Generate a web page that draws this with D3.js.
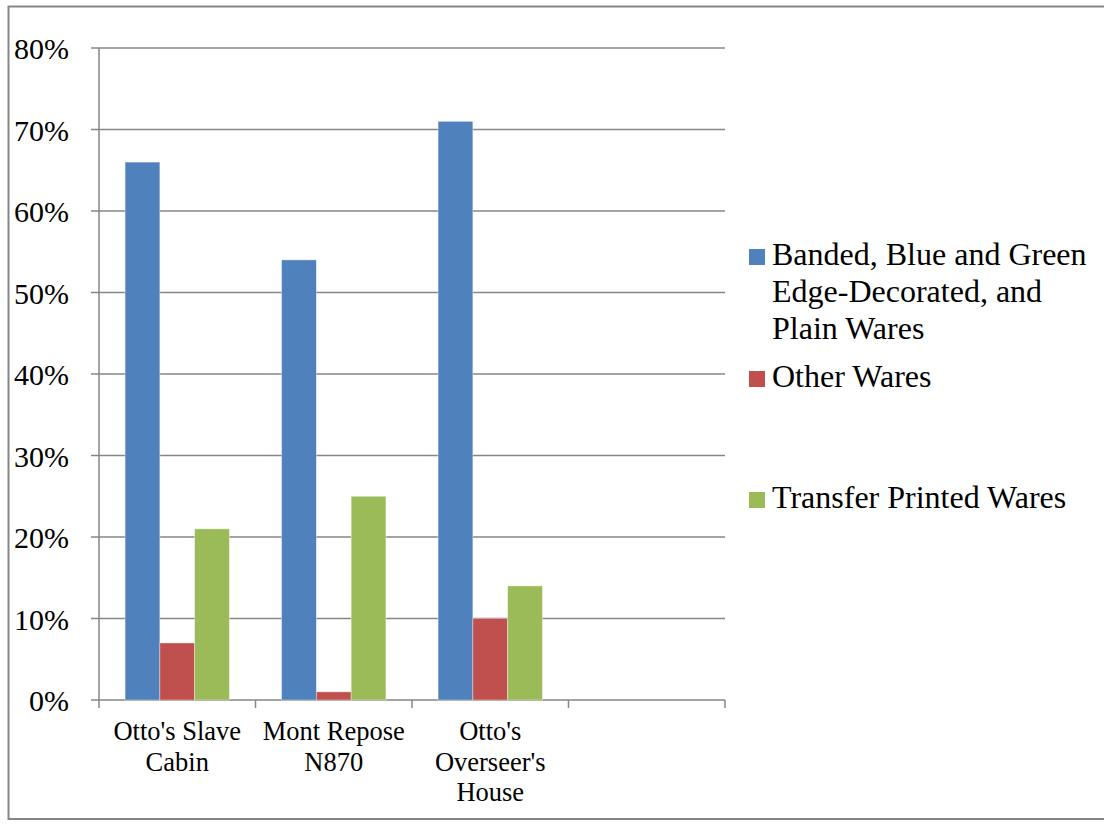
<!DOCTYPE html>
<html>
<head>
<meta charset="utf-8">
<script src="https://cdn.jsdelivr.net/npm/d3@7"></script>
<style>
  html, body { margin: 0; padding: 0; background: #fff; }
  text, tspan { font-family: "Liberation Serif", Tinos, "Times New Roman" !important; }
</style>
</head>
<body>
<script>
(function() {
  'use strict';

  // --- Data ---
  const categories = [
    ["Otto's Slave", "Cabin"],
    ["Mont Repose", "N870"],
    ["Otto's", "Overseer's", "House"],
    [""]
  ];
  const seriesNames = [
    ["Banded, Blue and Green", "Edge-Decorated, and", "Plain Wares"],
    ["Other Wares"],
    ["Transfer Printed Wares"]
  ];
  const seriesColors = ['#4F81BD', '#C0504D', '#9BBB59'];
  const bandedPlain = [0.66, 0.54, 0.71, null];
  const otherWares = [0.07, 0.01, 0.10, null];
  const transferPrinted = [0.21, 0.25, 0.14, null];
  const yTicks = [0, 0.1, 0.2, 0.3, 0.4, 0.5, 0.6, 0.7, 0.8];

  const series = [bandedPlain, otherWares, transferPrinted];
  const FONT = '"Liberation Serif", Tinos, "Times New Roman"';

  const width = 1104, height = 829;
  const plot = { left: 99, right: 725, top: 48, bottom: 700 };

  const svg = d3.select('body').append('svg')
    .attr('width', width)
    .attr('height', height)
    .attr('font-family', FONT)
    .style('display', 'block');

  // Outer frame (right edge runs off the picture)
  svg.append('rect')
    .attr('x', 8.5).attr('y', 6.5)
    .attr('width', 1110).attr('height', 812.5)
    .attr('fill', 'none')
    .attr('stroke', '#868686')
    .attr('stroke-width', 2);

  const x0 = d3.scaleBand()
    .domain(d3.range(categories.length))
    .range([plot.left, plot.right])
    .paddingInner(0)
    .paddingOuter(0);

  const x1 = d3.scaleBand()
    .domain(d3.range(series.length))
    .range([0, x0.bandwidth()])
    .paddingInner(0)
    .paddingOuter(0.75);

  const y = d3.scaleLinear()
    .domain([0, 0.8])
    .range([plot.bottom, plot.top]);

  // Gridlines
  svg.append('g')
    .selectAll('line')
    .data(yTicks)
    .join('line')
    .attr('x1', plot.left - 8)
    .attr('x2', plot.right)
    .attr('y1', d => y(d))
    .attr('y2', d => y(d))
    .attr('stroke', '#868686')
    .attr('stroke-width', 1.5);

  // Y axis line
  svg.append('line')
    .attr('x1', plot.left).attr('x2', plot.left)
    .attr('y1', plot.top).attr('y2', plot.bottom)
    .attr('stroke', '#868686')
    .attr('stroke-width', 1.5);

  // Y tick labels
  svg.append('g')
    .selectAll('text')
    .data(yTicks)
    .join('text')
    .attr('x', 69)
    .attr('y', d => y(d) + 11)
    .attr('text-anchor', 'end')
    .style('font-family', d => FONT)
    .attr('font-size', 30)
    .attr('fill', '#000')
    .text(d3.format('.0%'));

  // X axis tick marks at category boundaries
  const boundaries = d3.range(categories.length + 1).map(i =>
    i < categories.length ? x0(i) : x0(categories.length - 1) + x0.bandwidth());
  svg.append('g')
    .selectAll('line')
    .data(boundaries)
    .join('line')
    .attr('x1', d => d).attr('x2', d => d)
    .attr('y1', plot.bottom).attr('y2', plot.bottom + 8)
    .attr('stroke', '#868686')
    .attr('stroke-width', 1.5);

  // Bars
  series.forEach((vals, si) => {
    svg.append('g')
      .selectAll('rect')
      .data(vals.map((v, ci) => ({ v, ci })).filter(d => d.v !== null))
      .join('rect')
      .attr('x', d => x0(d.ci) + x1(si))
      .attr('y', d => y(d.v))
      .attr('width', x1.bandwidth())
      .attr('height', d => y(0) - y(d.v))
      .attr('fill', seriesColors[si])
      .attr('stroke', '#ffffff')
      .attr('stroke-opacity', 0.5)
      .attr('stroke-width', 0.75);
  });

  // X labels, one text per line
  categories.forEach((lines, i) => {
    svg.append('g')
      .selectAll('text')
      .data(lines)
      .join('text')
      .attr('x', x0(i) + x0.bandwidth() / 2)
      .attr('y', (d, j) => 740 + j * 30.5)
      .attr('text-anchor', 'middle')
      .style('font-family', d => FONT)
      .attr('font-size', 26.5)
      .attr('fill', '#000')
      .text(d => d);
  });

  // Legend
  const legendY = [265, 387, 508];
  seriesNames.forEach((lines, si) => {
    svg.append('rect')
      .attr('x', 749)
      .attr('y', legendY[si] - 16)
      .attr('width', 16)
      .attr('height', 16)
      .attr('fill', seriesColors[si]);
    svg.append('g')
      .selectAll('text')
      .data(lines)
      .join('text')
      .attr('x', 772)
      .attr('y', (d, j) => legendY[si] + j * 37)
      .style('font-family', d => FONT)
      .attr('font-size', 32)
      .attr('fill', '#000')
      .text(d => d);
  });
})();
</script>
</body>
</html>
